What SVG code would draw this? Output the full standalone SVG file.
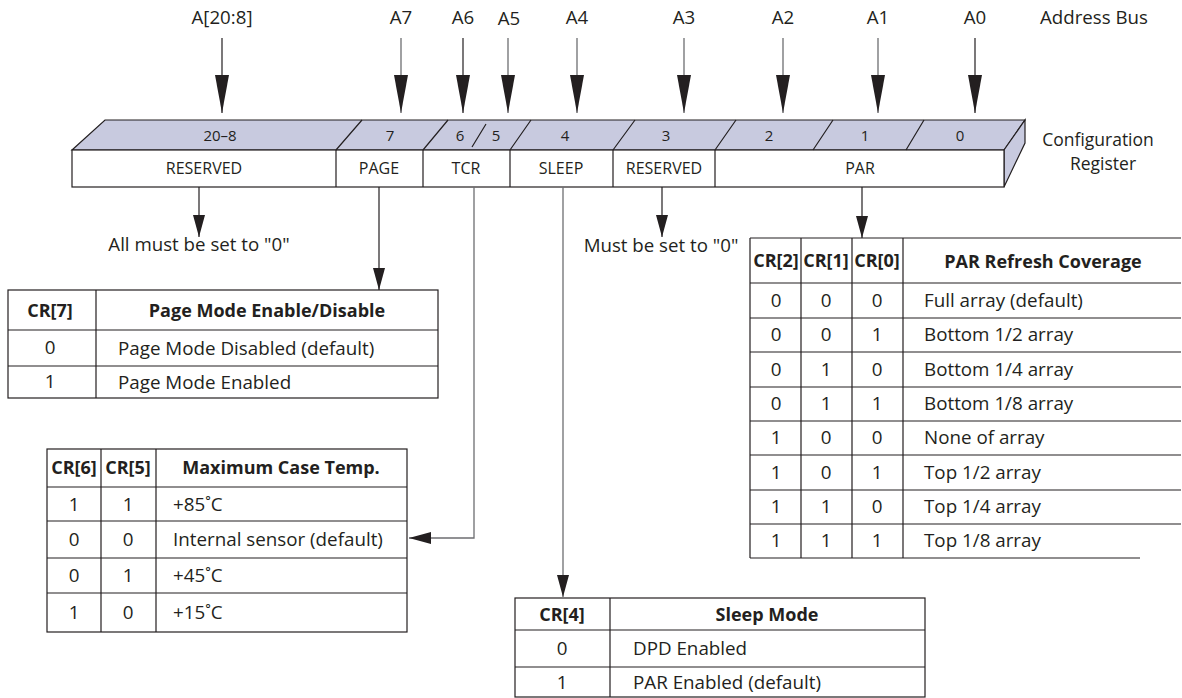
<svg xmlns="http://www.w3.org/2000/svg" width="1182" height="698" viewBox="0 0 1182 698">
<style>
text{font-family:"Open Sans","Noto Sans","Liberation Sans",sans-serif;fill:#231f20}
.lbl{font-size:18.7px}
.cfg{font-size:17.5px;text-anchor:middle}
.bit{font-size:15px;text-anchor:middle}
.fld{font-size:16px;text-anchor:middle}
.t{font-size:18.8px}
.h{font-size:18px;font-weight:bold;text-anchor:middle}
.c{text-anchor:middle}
.ln{stroke:#231f20;stroke-width:1.2;fill:none}
.gl{stroke:#6d6e71;stroke-width:1.3;fill:none}
.face{fill:#c8cadf;stroke:#231f20;stroke-width:1.2}
.box{fill:#fff;stroke:#231f20;stroke-width:1.2}
</style>
<defs>
<marker id="big" markerUnits="userSpaceOnUse" viewBox="0 0 38 14" refX="38" refY="7" markerWidth="38" markerHeight="14" orient="auto"><path d="M0,0L38,7L0,14z" fill="#231f20"/></marker>
<marker id="sm" markerUnits="userSpaceOnUse" viewBox="0 0 22 12" refX="22" refY="6" markerWidth="22" markerHeight="12" orient="auto"><path d="M0,0L22,6L0,12z" fill="#231f20"/></marker>
</defs>

<g id="address-bus">
<text class="lbl c" x="222" y="24">A[20:8]</text>
<text class="lbl c" x="401" y="24">A7</text>
<text class="lbl c" x="463" y="24">A6</text>
<text class="lbl c" x="509" y="25">A5</text>
<text class="lbl c" x="577" y="24">A4</text>
<text class="lbl c" x="684" y="24">A3</text>
<text class="lbl c" x="783" y="24">A2</text>
<text class="lbl c" x="878" y="24">A1</text>
<text class="lbl c" x="975" y="24">A0</text>
<text class="lbl" x="1040" y="24">Address Bus</text>
</g>

<g id="register">
<polygon class="face" points="72,150 105,120 1025,120 1004,150"/>
<polygon class="face" points="1004,150 1025,120 1025,143 1004,187"/>
<rect class="box" x="72" y="150" width="932" height="37"/>
<path class="ln" d="M336,150L362,120M423,150L448,120M472,147L486,124M510,150L531,120M613,150L635,120M715,150L736,120M813,150L833,120M906,150L924,120"/>
<path class="ln" d="M336,150V187M423,150V187M510,150V187M613,150V187M715,150V187"/>
<text class="bit" x="220" y="141">20–8</text>
<text class="bit" x="390" y="141">7</text>
<text class="bit" x="460" y="141">6</text>
<text class="bit" x="496" y="141">5</text>
<text class="bit" x="565" y="141">4</text>
<text class="bit" x="666" y="141">3</text>
<text class="bit" x="769" y="141">2</text>
<text class="bit" x="865" y="141">1</text>
<text class="bit" x="960" y="141">0</text>
<text class="fld" x="204" y="174">RESERVED</text>
<text class="fld" x="379" y="174">PAGE</text>
<text class="fld" x="466" y="174">TCR</text>
<text class="fld" x="561" y="174">SLEEP</text>
<text class="fld" x="664" y="174">RESERVED</text>
<text class="fld" x="860" y="174">PAR</text>
<text class="cfg" x="1098" y="146">Configuration</text>
<text class="cfg" x="1103" y="170">Register</text>
</g>

<g id="connectors">
<line class="ln" x1="222" y1="38" x2="222" y2="113" marker-end="url(#big)"/>
<line class="gl" x1="401" y1="38" x2="401" y2="113" marker-end="url(#big)"/>
<line class="ln" x1="463" y1="38" x2="463" y2="113" marker-end="url(#big)"/>
<line class="gl" x1="508" y1="38" x2="508" y2="113" marker-end="url(#big)"/>
<line class="gl" x1="577" y1="38" x2="577" y2="113" marker-end="url(#big)"/>
<line class="gl" x1="684" y1="38" x2="684" y2="113" marker-end="url(#big)"/>
<line class="gl" x1="783" y1="38" x2="783" y2="113" marker-end="url(#big)"/>
<line class="gl" x1="878" y1="38" x2="878" y2="113" marker-end="url(#big)"/>
<line class="ln" x1="975" y1="38" x2="975" y2="113" marker-end="url(#big)"/>
<line class="ln" x1="199" y1="187" x2="199" y2="237" marker-end="url(#sm)"/>
<line class="ln" x1="379" y1="187" x2="379" y2="290" marker-end="url(#sm)"/>
<polyline class="gl" points="474,187 474,538 409,538" marker-end="url(#sm)"/>
<line class="gl" x1="563" y1="187" x2="563" y2="597" marker-end="url(#sm)"/>
<line class="ln" x1="662" y1="187" x2="662" y2="237" marker-end="url(#sm)"/>
<line class="ln" x1="862" y1="187" x2="862" y2="238" marker-end="url(#sm)"/>
</g>

<g id="note-reserved-high">
<text class="lbl c" x="199" y="251">All must be set to "0"</text>
</g>
<g id="note-reserved-bit3">
<text class="lbl c" x="661" y="252">Must be set to "0"</text>
</g>

<g id="table-page">
<rect class="box" x="8" y="290" width="430" height="108"/>
<path class="ln" d="M8,330H438M8,366H438M96,290V398"/>
<text class="h" x="50" y="317">CR[7]</text>
<text class="h" x="267" y="317">Page Mode Enable/Disable</text>
<text class="t c" x="50" y="354">0</text>
<text class="t" x="118" y="355">Page Mode Disabled (default)</text>
<text class="t c" x="50" y="388">1</text>
<text class="t" x="118" y="389">Page Mode Enabled</text>
</g>

<g id="table-tcr">
<rect class="box" x="47" y="449" width="360" height="183"/>
<path class="ln" d="M47,487H407M47,521H407M47,558H407M47,593H407M101,449V632M156,449V632"/>
<text class="h" x="74" y="474">CR[6]</text>
<text class="h" x="128" y="474">CR[5]</text>
<text class="h" x="281" y="474">Maximum Case Temp.</text>
<text class="t c" x="74" y="511">1</text><text class="t c" x="128" y="511">1</text><text class="t" x="173" y="511">+85˚C</text>
<text class="t c" x="74" y="546">0</text><text class="t c" x="128" y="546">0</text><text class="t" x="173" y="546">Internal sensor (default)</text>
<text class="t c" x="74" y="582">0</text><text class="t c" x="128" y="582">1</text><text class="t" x="173" y="582">+45˚C</text>
<text class="t c" x="74" y="619">1</text><text class="t c" x="128" y="619">0</text><text class="t" x="173" y="619">+15˚C</text>
</g>

<g id="table-par">
<path class="ln" d="M750,238H1181M750,283H1181M750,318H1181M750,352H1181M750,387H1181M750,421H1181M750,455H1181M750,490H1181M750,524H1181M750,558H1140M750,238V558M801,238V558M852,238V558M903,238V558"/>
<text class="h" x="776" y="267">CR[2]</text>
<text class="h" x="826" y="267">CR[1]</text>
<text class="h" x="877" y="267">CR[0]</text>
<text class="h" x="1043" y="268">PAR Refresh Coverage</text>
<text class="t c" x="776" y="307">0</text><text class="t c" x="826" y="307">0</text><text class="t c" x="877" y="307">0</text><text class="t" x="924" y="307">Full array (default)</text>
<text class="t c" x="776" y="341">0</text><text class="t c" x="826" y="341">0</text><text class="t c" x="877" y="341">1</text><text class="t" x="924" y="341">Bottom 1/2 array</text>
<text class="t c" x="776" y="376">0</text><text class="t c" x="826" y="376">1</text><text class="t c" x="877" y="376">0</text><text class="t" x="924" y="376">Bottom 1/4 array</text>
<text class="t c" x="776" y="410">0</text><text class="t c" x="826" y="410">1</text><text class="t c" x="877" y="410">1</text><text class="t" x="924" y="410">Bottom 1/8 array</text>
<text class="t c" x="776" y="444">1</text><text class="t c" x="826" y="444">0</text><text class="t c" x="877" y="444">0</text><text class="t" x="924" y="444">None of array</text>
<text class="t c" x="776" y="479">1</text><text class="t c" x="826" y="479">0</text><text class="t c" x="877" y="479">1</text><text class="t" x="924" y="479">Top 1/2 array</text>
<text class="t c" x="776" y="513">1</text><text class="t c" x="826" y="513">1</text><text class="t c" x="877" y="513">0</text><text class="t" x="924" y="513">Top 1/4 array</text>
<text class="t c" x="776" y="547">1</text><text class="t c" x="826" y="547">1</text><text class="t c" x="877" y="547">1</text><text class="t" x="924" y="547">Top 1/8 array</text>
</g>

<g id="table-sleep">
<rect class="box" x="515" y="598" width="410" height="99"/>
<path class="ln" d="M515,630H925M515,667H925M610,598V697"/>
<text class="h" x="562" y="621">CR[4]</text>
<text class="h" x="767" y="621">Sleep Mode</text>
<text class="t c" x="562" y="655">0</text>
<text class="t" x="633" y="655">DPD Enabled</text>
<text class="t c" x="562" y="689">1</text>
<text class="t" x="633" y="689">PAR Enabled (default)</text>
</g>
</svg>
